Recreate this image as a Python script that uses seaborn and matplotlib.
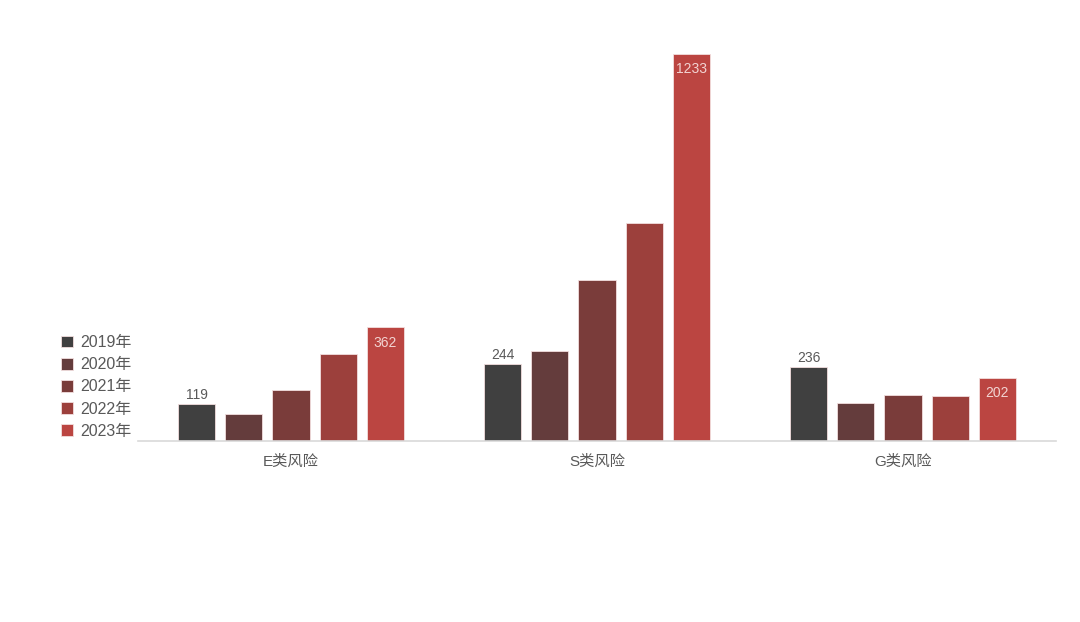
import matplotlib
matplotlib.use("Agg")
import matplotlib.pyplot as plt
import seaborn as sns
import pandas as pd

categories = ["E类风险", "S类风险", "G类风险"]
years = ["2019年", "2020年", "2021年", "2022年", "2023年"]
v2019 = [119, 244, 236]
v2020 = [86, 287, 121]
v2021 = [162, 513, 147]
v2022 = [277, 694, 143]
v2023 = [362, 1233, 202]
colors = ["#404040", "#643c3c", "#7a3c3a", "#9c403c", "#bb4541"]

series = [v2019, v2020, v2021, v2022, v2023]
rows = []
for y, vals in zip(years, series):
    for c, v in zip(categories, vals):
        rows.append({"cat": c, "year": y, "val": v})
df = pd.DataFrame(rows)

sns.set_theme(style="white")
plt.rcParams['font.family'] = ['Liberation Sans', 'Noto Sans CJK SC', 'DejaVu Sans']

fig = plt.figure(figsize=(10.8, 6.22), dpi=100)
ax = fig.add_axes([138/1080, 1-441/622, 918/1080, 411/622])
sns.barplot(data=df, x="cat", y="val", hue="year", palette=colors,
            width=0.77, gap=0.21, ax=ax, edgecolor="#f2dede", linewidth=0.6,
            saturation=1, legend=True)
ax.set_xlim(-0.5, 2.5)
ax.set_ylim(0, 1233 * 411 / 387)
ax.set_xlabel("")
ax.set_ylabel("")
ax.set_yticks([])
for s in ["top", "right", "left"]:
    ax.spines[s].set_visible(False)
ax.spines["bottom"].set_color("#d9d9d9")
ax.spines["bottom"].set_linewidth(1.2)
ax.tick_params(axis="x", length=0, pad=10, labelsize=11, labelcolor="#595959")

conts = ax.containers
ax.bar_label(conts[0], labels=[str(v) for v in v2019], padding=1.5,
             fontsize=10, color="#595959")
ax.bar_label(conts[4], labels=[str(v) for v in v2023], padding=-16,
             fontsize=10, color="#f2d4d2")

leg = ax.legend(loc="center left", bbox_to_anchor=(55/1080, 1-387/622),
                bbox_transform=fig.transFigure, frameon=False,
                fontsize=11.5, labelcolor="#595959", handlelength=0.75,
                handleheight=0.75, handletextpad=0.45, labelspacing=0.45,
                borderaxespad=0)
fig.savefig("out.png", dpi=100)
